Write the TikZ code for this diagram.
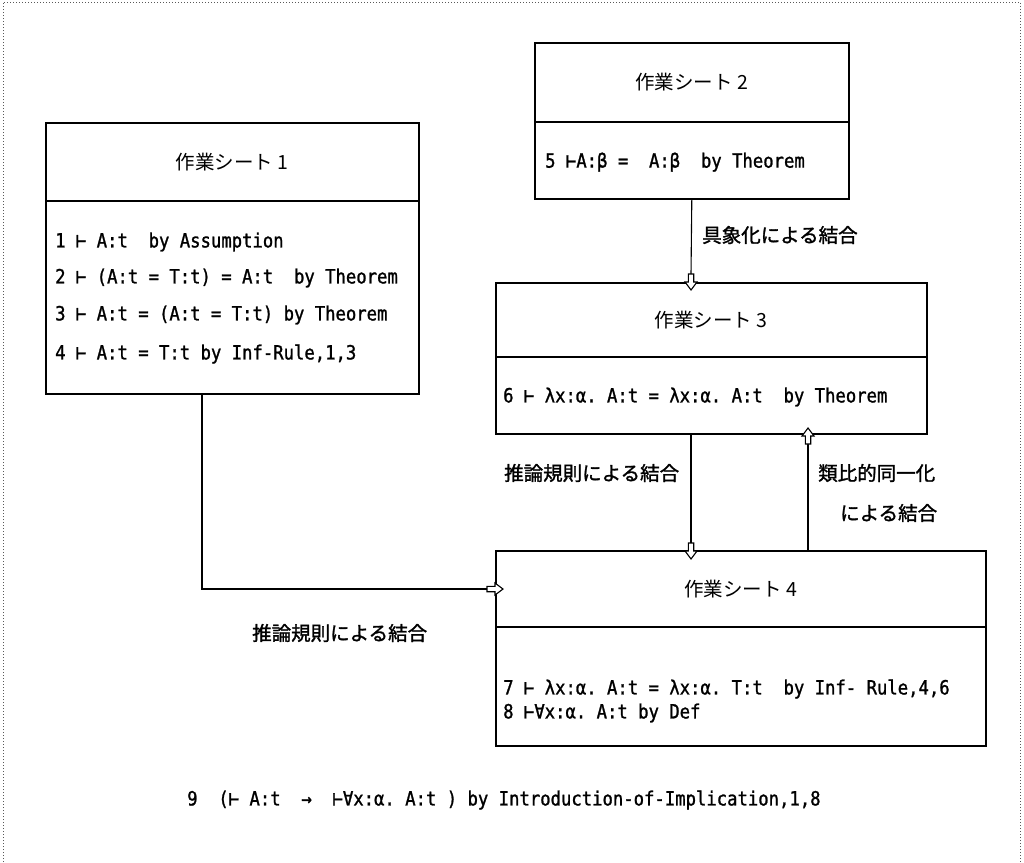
\documentclass[tikz,border=0pt]{standalone}
\usepackage{fontspec}
\setmonofont[FakeStretch=0.88,FakeBold=1.2]{DejaVu Sans Mono}
\newfontfamily\jp{Noto Sans CJK JP}
\newfontfamily\jpb[FakeBold=1.5]{Noto Sans CJK JP}
\begin{document}
\begin{tikzpicture}[x=1pt,y=-1pt,
  box/.style={draw, line width=1.6pt, inner sep=0pt, anchor=north west},
  ttl/.style={font=\jp\fontsize{19.5}{19.5}\selectfont},
  lbl/.style={font=\jpb\fontsize{19.5}{20}\selectfont, anchor=west, inner sep=0pt},
  fml/.style={font=\ttfamily\fontsize{19.6}{20}\selectfont, anchor=west, inner sep=0pt},
  conn/.style={line width=1.1pt},
  frame/.style={draw=black!65, dotted, line width=1pt},
  harr/.pic={\draw[fill=white, line width=1.1pt, line join=miter]
     (0,-2.7) -- (8,-2.7) -- (8,-6) -- (16,0) -- (8,6) -- (8,2.7) -- (0,2.7) -- cycle;}]
\useasboundingbox (0,0) rectangle (1024,862);
\draw[frame] (3,862) -- (3,2) -- (1020,2) -- (1020,862);

% sheet 1
\node[box, ttl, minimum width=373pt, minimum height=78pt] (b1h) at (45,122) {作業シート 1};
\node[box, minimum width=373pt, minimum height=193pt] (b1b) at (45,200) {};
\node[fml] (l1) at (55,242) {1 ⊢ A:t~~by Assumption};
\node[fml] (l2) at (55,278) {2 ⊢ (A:t = T:t) = A:t~~by Theorem};
\node[fml] (l3) at (55,315) {3 ⊢ A:t = (A:t = T:t) by Theorem};
\node[fml] (l4) at (55,354) {4 ⊢ A:t = T:t by Inf-Rule,1,3};

% sheet 2
\node[box, ttl, minimum width=314pt, minimum height=79pt] (b2h) at (534,42) {作業シート 2};
\node[box, minimum width=314pt, minimum height=77pt] (b2b) at (534,121) {};
\node[fml] (l5) at (545,162) {5 ⊢A:β =~~A:β~~by Theorem};

% sheet 3
\node[box, ttl, minimum width=431pt, minimum height=74pt] (b3h) at (495,282) {作業シート 3};
\node[box, minimum width=431pt, minimum height=77pt] (b3b) at (495,356) {};
\node[fml] (l6) at (503,397) {6 ⊢ λx:α. A:t = λx:α. A:t~~by Theorem};

% sheet 4
\node[box, ttl, minimum width=490pt, minimum height=76pt] (b4h) at (495,550) {作業シート 4};
\node[box, minimum width=490pt, minimum height=119pt] (b4b) at (495,626) {};
\node[fml] (l7) at (503,689) {7 ⊢ λx:α. A:t = λx:α. T:t~~by Inf- Rule,4,6};
\node[fml] (l8) at (503,713) {8 ⊢∀x:α. A:t by Def};

% arrow tails
\coordinate (t23) at (691,274);
\coordinate (t34) at (691,543);
\coordinate (t43) at (808,444);
\coordinate (t14) at (487,589);
\coordinate (k1) at (202,589);

% connectors
\draw[conn] (b2b.south) -- (t23);
\draw[conn] (t34 |- b3b.south) -- (t34);
\draw[conn] (t43 |- b4h.north) -- (t43);
\draw[conn] (k1 |- b1b.south) -- (k1) -- (t14);

% hollow arrow heads
\pic[rotate=-90] at (t23) {harr};
\pic[rotate=-90] at (t34) {harr};
\pic[rotate=90] at (t43) {harr};
\pic at (t14) {harr};

% labels
\node[lbl] (t1) at (702,235) {具象化による結合};
\node[lbl] (t2) at (504,473) {推論規則による結合};
\node[lbl] (t3) at (818,473) {類比的同一化};
\node[lbl] (t4) at (840,513) {による結合};
\node[lbl] (t5) at (252,633) {推論規則による結合};

\node[fml] (l9) at (187,800) {9~~(⊢ A:t~~→~~⊢∀x:α. A:t ) by Introduction-of-Implication,1,8};
\end{tikzpicture}
\end{document}
